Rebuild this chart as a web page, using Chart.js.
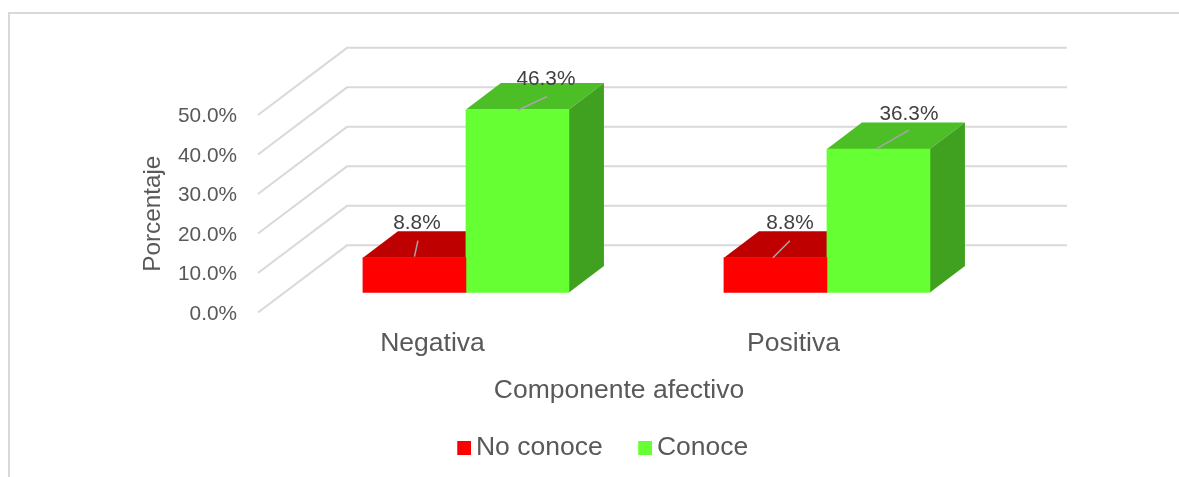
<!DOCTYPE html>
<html lang="es">
<head>
<meta charset="utf-8">
<title>Componente afectivo</title>
<script src="https://cdn.jsdelivr.net/npm/chart.js@4"></script>
<style>
  html, body { margin: 0; padding: 0; background: #fff; overflow: hidden; width: 1179px; height: 477px; }
  #frame { position: absolute; left: 8px; top: 12px; width: 1188px; height: 465px; box-sizing: border-box;
           border-left: 2px solid #D9D9D9; border-top: 2px solid #D9D9D9; }
  #plot { position: absolute; left: 8px; top: 13px; }
</style>
</head>
<body>
<div id="frame"></div>
<canvas id="plot" width="1182" height="464"></canvas>
<script>
const categories = ['Negativa', 'Positiva'];
const noConoce = [8.8, 8.8];
const conoce = [46.3, 36.3];
const seriesNames = ['No conoce', 'Conoce'];
const yTicks = [0, 10, 20, 30, 40, 50];

const FONT = '"Liberation Sans", Arial, sans-serif';
const TEXT = '#595959';
const GRID = '#D9D9D9';

// Oblique projection of the box: how far the back edge of a bar and the back wall sit from the front.
const BAR_DEPTH = { dx: 35, dy: -26.5 };
const WALL_DEPTH = { dx: 89 };
const WALL_RIGHT = 809; // px from the plot's left edge to the end of the back wall

// Face shades per series: [top, side]
const faces = [
  ['#BF0000', '#9F0000'],
  ['#4DBF26', '#40A020']
];

// Callout placement per series and category, relative to the top-centre of the bar's front face.
const calloutText = [[[2.5, -34], [14.5, -34]], [[28.5, -30], [30.5, -35]]];
const calloutLine = [
  [[[0, -1], [3.5, -17]], [[-2.5, 0], [14.5, -17]]],
  [[[0, 1], [29.5, -13]], [[-2.5, 0], [30.5, -19]]]
];

// Legend marker: a 14px square placed close to its label inside a wider transparent sprite.
function swatch(color) {
  const c = document.createElement('canvas');
  c.width = 30; c.height = 14;
  const g = c.getContext('2d');
  g.fillStyle = color;
  g.fillRect(16, 0, 14, 14);
  return c;
}

const box3d = {
  id: 'box3d',
  beforeDatasetsDraw(chart) {
    const { ctx, chartArea, scales } = chart;
    // Side wall and back wall gridlines
    ctx.save();
    ctx.strokeStyle = GRID;
    ctx.lineWidth = 2;
    yTicks.forEach(v => {
      const front = scales.y.getPixelForValue(v);
      const back = scales.yWall.getPixelForValue(v);
      ctx.beginPath();
      ctx.moveTo(chartArea.left, front);
      ctx.lineTo(chartArea.left + WALL_DEPTH.dx, back);
      ctx.lineTo(chartArea.left + WALL_RIGHT, back);
      ctx.stroke();
    });
    // Top and side faces; the front faces are the bars the library draws next
    chart.data.datasets.forEach((ds, i) => {
      chart.getDatasetMeta(i).data.forEach(bar => {
        const l = bar.x - bar.width / 2, r = bar.x + bar.width / 2;
        const { dx, dy } = BAR_DEPTH;
        ctx.fillStyle = faces[i][0];
        ctx.beginPath();
        ctx.moveTo(l, bar.y);
        ctx.lineTo(l + dx, bar.y + dy);
        ctx.lineTo(r + dx, bar.y + dy);
        ctx.lineTo(r, bar.y);
        ctx.closePath();
        ctx.fill();
        ctx.fillStyle = faces[i][1];
        ctx.beginPath();
        ctx.moveTo(r, bar.y);
        ctx.lineTo(r + dx, bar.y + dy);
        ctx.lineTo(r + dx, bar.base + dy);
        ctx.lineTo(r, bar.base);
        ctx.closePath();
        ctx.fill();
      });
    });
    ctx.restore();
  },
  afterDatasetsDraw(chart) {
    const { ctx } = chart;
    ctx.save();
    chart.data.datasets.forEach((ds, i) => {
      chart.getDatasetMeta(i).data.forEach((bar, j) => {
        const [a, b] = calloutLine[i][j];
        ctx.strokeStyle = '#A6A6A6';
        ctx.lineWidth = 1.5;
        ctx.beginPath();
        ctx.moveTo(bar.x + a[0], bar.y + a[1]);
        ctx.lineTo(bar.x + b[0], bar.y + b[1]);
        ctx.stroke();
        const [tx, ty] = calloutText[i][j];
        ctx.fillStyle = '#404040';
        ctx.font = '20.8px ' + FONT;
        ctx.textAlign = 'center';
        ctx.textBaseline = 'middle';
        ctx.fillText(ds.data[j].y.toFixed(1) + '%', bar.x + tx, bar.y + ty);
      });
    });
    ctx.restore();
  }
};

new Chart(document.getElementById('plot'), {
  type: 'bar',
  data: {
    labels: categories,
    datasets: [
      { label: seriesNames[0], data: categories.map((c, i) => ({ x: i, y: noConoce[i] })), backgroundColor: '#FF0000', barThickness: 103, xAxisID: 'xBars', yAxisID: 'yBars', clip: false },
      { label: seriesNames[1], data: categories.map((c, i) => ({ x: i, y: conoce[i] })), backgroundColor: '#66FF33', barThickness: 103, xAxisID: 'xBars', yAxisID: 'yBars', clip: false }
    ]
  },
  options: {
    responsive: false,
    animation: false,
    events: [],
    layout: { padding: { top: 102, right: 0, left: 0, bottom: 6 } },
    plugins: {
      tooltip: { enabled: false },
      legend: {
        position: 'bottom',
        labels: {
          color: TEXT,
          font: { family: FONT, size: 26.5 },
          usePointStyle: true,
          pointStyleWidth: 13,
          boxHeight: 14,
          padding: 28,
          generateLabels(chart) {
            return Chart.defaults.plugins.legend.labels.generateLabels(chart).map((item, i) => {
              item.pointStyle = swatch(chart.data.datasets[i].backgroundColor);
              return item;
            });
          }
        }
      }
    },
    scales: {
      x: {
        type: 'category',
        offset: true,
        afterFit(scale) { scale.height = 94; },
        grid: { display: false, drawTicks: false },
        border: { display: false },
        ticks: { color: TEXT, font: { family: FONT, size: 26.5 }, padding: 15, labelOffset: -6, maxRotation: 0 },
        title: { display: true, text: 'Componente afectivo', color: TEXT, font: { family: FONT, size: 26.5 }, padding: { top: -1, bottom: 0 } }
      },
      y: {
        type: 'linear',
        min: 0,
        max: 50,
        afterFit(scale) { scale.width = 250; },
        afterBuildTicks(scale) { scale.ticks = yTicks.map(value => ({ value })); },
        grid: { display: false, drawTicks: false },
        border: { display: false },
        ticks: { color: TEXT, font: { family: FONT, size: 20.8 }, padding: 21, labelOffset: 1.5, callback: v => v.toFixed(1) + '%' },
        title: { display: true, text: 'Porcentaje', color: TEXT, font: { family: FONT, size: 24.3 }, padding: { top: 131, bottom: 0 } }
      },
      // Hidden companions of the visible axes: same pixels per unit, shifted onto the bar floor and the back wall.
      xBars: { type: 'linear', axis: 'x', display: false, offset: false, min: -0.576, max: 1.424 },
      yBars: { type: 'linear', axis: 'y', display: false, min: -5.08, max: 44.92 },
      // The wall axis also reserves the empty strip right of the plot, which keeps the legend centred on the page.
      yWall: {
        type: 'linear', axis: 'y', position: 'right', min: -17, max: 33,
        afterFit(scale) { scale.width = 210; },
        grid: { display: false, drawTicks: false },
        border: { display: false },
        ticks: { display: false }
      }
    }
  },
  plugins: [box3d]
});
</script>
</body>
</html>
